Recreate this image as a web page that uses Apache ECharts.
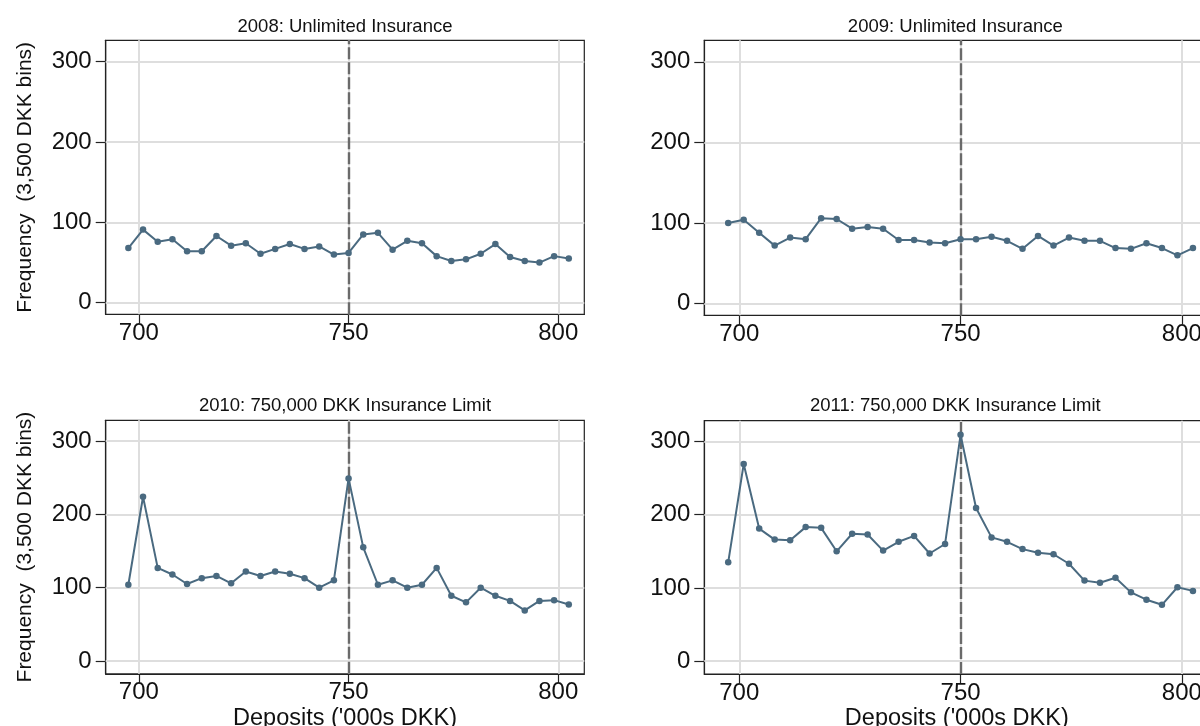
<!DOCTYPE html>
<html>
<head>
<meta charset="utf-8">
<script src="https://cdn.jsdelivr.net/npm/echarts@6/dist/echarts.min.js"></script>
<style>
html,body{margin:0;padding:0;background:#fff;}
#chart{width:1200px;height:726px;}
</style>
</head>
<body>
<div id="chart"></div>
<script>
// Bin midpoints ('000s DKK), 3,500 DKK bins
const bins = [697.5, 701, 704.5, 708, 711.5, 715, 718.5, 722, 725.5, 729, 732.5, 736, 739.5, 743, 746.5, 750,
  753.5, 757, 760.5, 764, 767.5, 771, 774.5, 778, 781.5, 785, 788.5, 792, 795.5, 799, 802.5];

const panelTitles = ["2008: Unlimited Insurance", "2009: Unlimited Insurance",
  "2010: 750,000 DKK Insurance Limit", "2011: 750,000 DKK Insurance Limit"];

const freq2008 = [68, 91, 76, 79, 64, 64, 83, 71, 74, 61, 67, 73, 67, 70, 60, 62,
  85, 87, 66, 77, 74, 58, 52, 54, 61, 73, 57, 52, 50, 58, 55];
const freq2009 = [100, 104, 88, 72, 82, 80, 106, 105, 93, 95, 93, 79, 79, 76, 75, 80,
  80, 83, 78, 68, 84, 72, 82, 78, 78, 69, 68, 75, 69, 60, 69];
const freq2010 = [104, 224, 127, 118, 105, 113, 116, 106, 122, 116, 122, 119, 113, 100, 110, 249,
  155, 104, 110, 100, 104, 127, 89, 80, 100, 89, 82, 69, 82, 83, 77];
const freq2011 = [135, 269, 181, 166, 165, 183, 182, 150, 174, 173, 151, 163, 171, 147, 160, 309,
  209, 169, 163, 153, 148, 146, 133, 110, 107, 114, 94, 84, 77, 101, 96];

const xTicks = [700, 750, 800];
const yTicks = [0, 100, 200, 300];
const cutoff = 750;

const yLabel = "Frequency  (3,500 DKK bins)";
const xLabel = "Deposits ('000s DKK)";

const FONT = "'Liberation Sans', Arial, sans-serif";
const LINE_COLOR = "#4a6a80";
const AXIS_COLOR = "#222";
const GRID_COLOR = "#dedede";

const grids = [
  {left: 105.7, top: 40.3, width: 478.6, height: 274},
  {left: 704.3, top: 40.3, width: 505, height: 275},
  {left: 105.7, top: 420.3, width: 478.6, height: 253.5},
  {left: 704.3, top: 420.7, width: 505, height: 253.3}
];
const yRanges = [[-14.4, 326.6], [-14.4, 326.6], [-17.4, 328.2], [-17.4, 328.2]];
const allData = [freq2008, freq2009, freq2010, freq2011];
const titleTops = [17, 17, 396, 396];

const option = {
  backgroundColor: '#fff',
  animation: false,
  title: [],
  grid: [],
  xAxis: [],
  yAxis: [],
  series: []
};

for (let i = 0; i < 4; i++) {
  const g = grids[i];
  option.grid.push(Object.assign({show: true, borderColor: AXIS_COLOR, borderWidth: 1.2, backgroundColor: '#fff',
    containLabel: false, outerBoundsMode: 'none'}, g));
  option.title.push({
    text: panelTitles[i],
    left: g.left + g.width / 2 - (i % 2 === 1 ? 1.5 : 0),
    top: titleTops[i],
    textAlign: 'center',
    padding: 0,
    textStyle: {fontFamily: FONT, fontSize: 18.5, fontWeight: 'normal', color: '#111'}
  });
  const bottomRow = i >= 2;
  option.xAxis.push({
    type: 'value',
    gridIndex: i,
    min: 692.1,
    max: 806.2,
    name: bottomRow ? xLabel : '',
    nameLocation: 'middle',
    nameGap: 33,
    nameTextStyle: {fontFamily: FONT, fontSize: 23.5, color: '#111'},
    axisLine: {show: true, onZero: false, lineStyle: {color: AXIS_COLOR, width: 1.2}},
    axisTick: {show: true, length: 9, customValues: xTicks, lineStyle: {color: AXIS_COLOR, width: 1.2}},
    axisLabel: {show: true, customValues: xTicks, margin: 7, fontFamily: FONT, fontSize: 24, color: '#111'},
    splitLine: {show: false}
  });
  const leftCol = i % 2 === 0;
  option.yAxis.push({
    type: 'value',
    gridIndex: i,
    min: yRanges[i][0],
    max: yRanges[i][1],
    name: leftCol ? yLabel : '',
    nameLocation: 'middle',
    nameGap: 70,
    nameTextStyle: {fontFamily: FONT, fontSize: 21, color: '#111'},
    axisLine: {show: true, onZero: false, lineStyle: {color: AXIS_COLOR, width: 1.2}},
    axisTick: {show: true, length: 10, customValues: yTicks, lineStyle: {color: AXIS_COLOR, width: 1.2}},
    axisLabel: {show: true, customValues: yTicks, margin: 14, fontFamily: FONT, fontSize: 24, color: '#111'},
    splitLine: {show: false}
  });
  option.series.push({
    type: 'line',
    xAxisIndex: i,
    yAxisIndex: i,
    data: [],
    z: 1,
    silent: true,
    markLine: {
      silent: true,
      symbol: 'none',
      animation: false,
      label: {show: false},
      lineStyle: {color: GRID_COLOR, width: 2, type: 'solid'},
      data: xTicks.map(v => ({xAxis: v})).concat(yTicks.map(v => ({yAxis: v})))
    }
  });
  option.series.push({
    type: 'line',
    xAxisIndex: i,
    yAxisIndex: i,
    data: [],
    z: 2,
    silent: true,
    markLine: {
      silent: true,
      symbol: 'none',
      animation: false,
      label: {show: false},
      lineStyle: {color: '#6a6a6a', width: 2.4, type: [12, 3]},
      data: [{xAxis: cutoff}]
    }
  });
  option.series.push({
    type: 'line',
    xAxisIndex: i,
    yAxisIndex: i,
    z: 5,
    data: bins.map((b, k) => [b, allData[i][k]]),
    symbol: 'circle',
    symbolSize: 6.5,
    lineStyle: {color: LINE_COLOR, width: 2},
    itemStyle: {color: LINE_COLOR},
    silent: true
  });
}

const chart = echarts.init(document.getElementById('chart'), null, {renderer: 'canvas'});
chart.setOption(option);
</script>
</body>
</html>
